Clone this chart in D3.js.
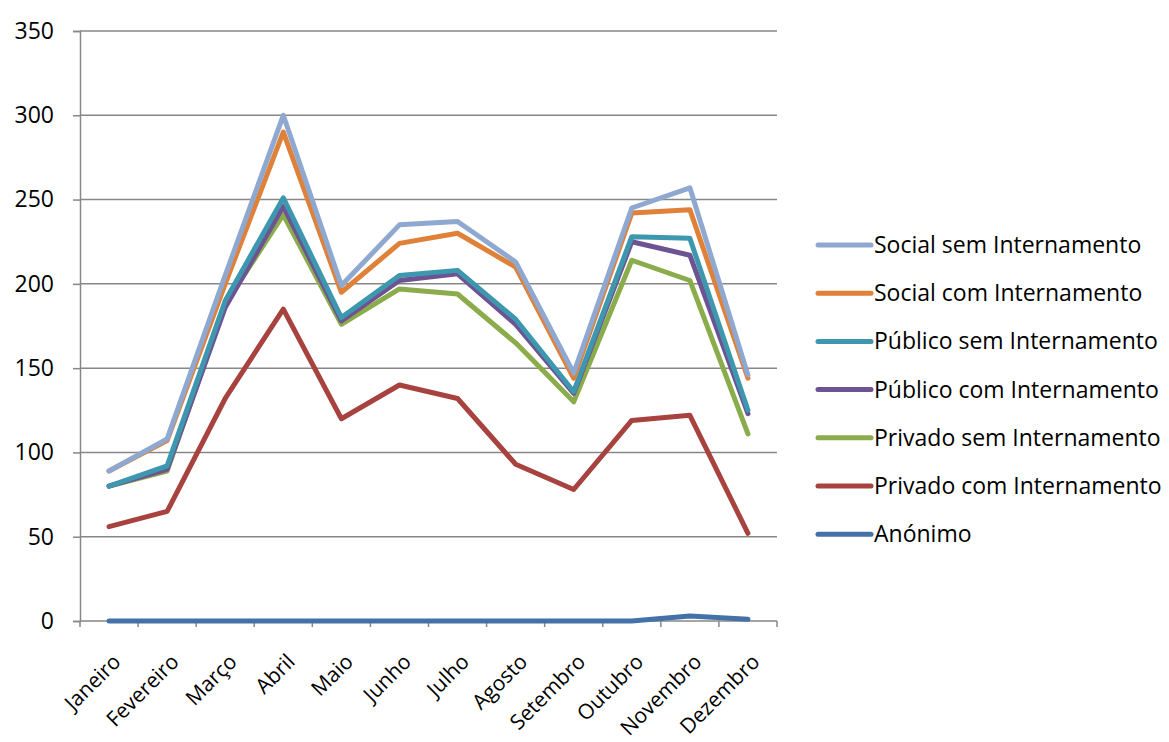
<!DOCTYPE html>
<html>
<head>
<meta charset="utf-8">
<script src="https://cdn.jsdelivr.net/npm/d3@7"></script>
<style>
  body { margin: 0; background: #fff; }
  text { font-family: "Open Sans", sans-serif; fill: #000; }
</style>
</head>
<body>
<div id="chart"></div>
<script>
const width = 1169;
const height = 742;
const margin = { top: 31, right: 392, bottom: 121, left: 80 };

const months = ["Janeiro", "Fevereiro", "Março", "Abril", "Maio", "Junho",
  "Julho", "Agosto", "Setembro", "Outubro", "Novembro", "Dezembro"];
const yTicks = [0, 50, 100, 150, 200, 250, 300, 350];

const socialSem = [89, 108, 205, 300, 199, 235, 237, 213, 147, 245, 257, 146];
const socialCom = [89, 107, 200, 290, 195, 224, 230, 210, 144, 242, 244, 144];
const publicoSem = [80, 92, 190, 251, 180, 205, 208, 179, 136, 228, 227, 125];
const publicoCom = [80, 90, 186, 246, 178, 202, 206, 176, 135, 225, 217, 123];
const privadoSem = [80, 89, 188, 241, 176, 197, 194, 165, 130, 214, 202, 111];
const privadoCom = [56, 65, 132, 185, 120, 140, 132, 93, 78, 119, 122, 52];
const anonimo = [0, 0, 0, 0, 0, 0, 0, 0, 0, 0, 3, 1];

const series = [
  { name: "Social sem Internamento", values: socialSem, color: "#8EA8CF" },
  { name: "Social com Internamento", values: socialCom, color: "#E0813A" },
  { name: "Público sem Internamento", values: publicoSem, color: "#3D97AE" },
  { name: "Público com Internamento", values: publicoCom, color: "#6D5391" },
  { name: "Privado sem Internamento", values: privadoSem, color: "#8BAC4B" },
  { name: "Privado com Internamento", values: privadoCom, color: "#A8423F" },
  { name: "Anónimo", values: anonimo, color: "#4471A8" }
];

const svg = d3.select("#chart").append("svg")
  .attr("width", width)
  .attr("height", height);

const innerW = width - margin.left - margin.right;
const innerH = height - margin.top - margin.bottom;

const x = d3.scaleBand().domain(months).range([0, innerW]);
const y = d3.scaleLinear().domain([0, 350]).range([innerH, 0]);

const g = svg.append("g")
  .attr("transform", "translate(" + margin.left + "," + margin.top + ")");

// grid lines
g.selectAll(".grid")
  .data(yTicks.filter(d => d > 0))
  .enter()
  .append("line")
  .attr("x1", 0)
  .attr("x2", innerW)
  .attr("y1", d => y(d))
  .attr("y2", d => y(d))
  .attr("stroke", "#878787")
  .attr("stroke-width", 1.5);

// y axis
const yAxis = g.append("g")
  .call(d3.axisLeft(y).tickValues(yTicks).tickSize(7).tickPadding(19));
yAxis.selectAll("path, line").attr("stroke", "#878787").attr("stroke-width", 1.5);
yAxis.selectAll("text").style("font-size", "23px").attr("font-family", "Open Sans");

// x axis, ticks between categories
const xAxis = g.append("g").attr("transform", "translate(0," + innerH + ")");
xAxis.append("line")
  .attr("x1", 0).attr("x2", innerW)
  .attr("stroke", "#878787").attr("stroke-width", 1.5);
xAxis.selectAll(".tk")
  .data(d3.range(months.length + 1))
  .enter()
  .append("line")
  .attr("x1", i => i * x.step())
  .attr("x2", i => i * x.step())
  .attr("y1", 0).attr("y2", 6)
  .attr("stroke", "#878787").attr("stroke-width", 1.5);
xAxis.selectAll(".lbl")
  .data(months)
  .enter()
  .append("text")
  .attr("text-anchor", "end")
  .attr("transform", d => "translate(" + (x(d) + x.bandwidth() / 2 + 13) + ",42) rotate(-45)")
  .style("font-size", "21px")
  .text(d => d);

// lines (drawn bottom-up so first legend entry sits on top)
const line = d3.line()
  .x((d, i) => x(months[i]) + x.bandwidth() / 2)
  .y(d => y(d));

g.selectAll(".series")
  .data(series.slice().reverse())
  .enter()
  .append("path")
  .attr("fill", "none")
  .attr("stroke", d => d.color)
  .attr("stroke-width", 5)
  .attr("stroke-linejoin", "round")
  .attr("stroke-linecap", "round")
  .attr("d", d => line(d.values));

// legend
const legend = svg.append("g").attr("transform", "translate(816,245)");
const rows = legend.selectAll(".row")
  .data(series)
  .enter()
  .append("g")
  .attr("transform", (d, i) => "translate(0," + i * 48.2 + ")");
rows.append("line")
  .attr("x1", 2).attr("x2", 55)
  .attr("stroke", d => d.color)
  .attr("stroke-width", 5)
  .attr("stroke-linecap", "round");
rows.append("text")
  .attr("x", 58)
  .attr("dy", "0.35em")
  .style("font-size", "23px")
  .text(d => d.name);
</script>
</body>
</html>
